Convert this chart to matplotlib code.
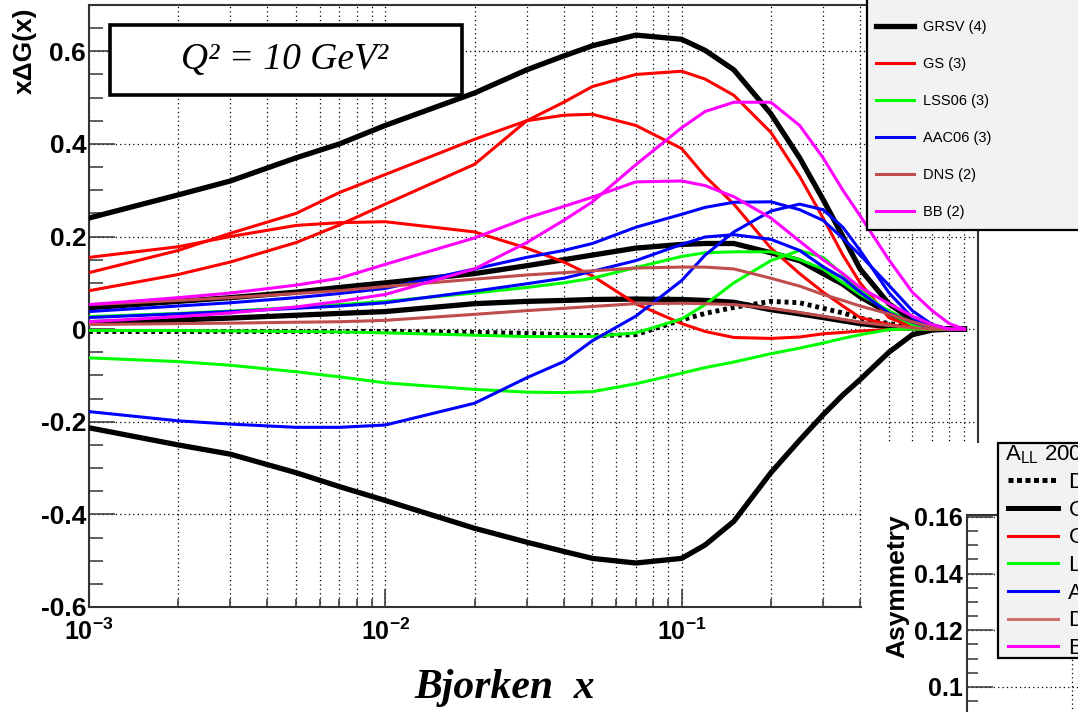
import matplotlib
matplotlib.use("Agg")
import matplotlib.pyplot as plt
import numpy as np
from matplotlib.lines import Line2D
from matplotlib.patches import Rectangle
from matplotlib.ticker import LogLocator, MultipleLocator, FuncFormatter, NullFormatter, FixedLocator

plt.rcParams["font.family"] = ["Liberation Sans", "DejaVu Sans"]
plt.rcParams["mathtext.fontset"] = "custom"
plt.rcParams["mathtext.rm"] = "Liberation Sans"
plt.rcParams["mathtext.bf"] = "Liberation Sans:bold"
plt.rcParams["mathtext.it"] = "Liberation Sans:italic"
plt.rcParams["axes.unicode_minus"] = False

# Bjorken x sampling points shared by all curves
x_vals = [0.001, 0.002, 0.003, 0.005, 0.007, 0.01, 0.02, 0.03, 0.04, 0.05, 0.07,
          0.1, 0.12, 0.15, 0.2, 0.25, 0.3, 0.35, 0.4, 0.5, 0.6, 0.7, 0.8, 0.9]

# x*DeltaG(x) at Q^2 = 10 GeV^2
dssv = [-0.005, -0.005, -0.005, -0.005, -0.005, -0.005, -0.007, -0.009, -0.012, -0.014, -0.012,
        0.02, 0.034, 0.047, 0.06, 0.057, 0.045, 0.035, 0.024, 0.012, 0.006, 0.003, 0.001, 0.0]

grsv_max = [0.24, 0.29, 0.32, 0.37, 0.40, 0.44, 0.51, 0.56, 0.59, 0.612, 0.635,
            0.626, 0.602, 0.56, 0.465, 0.37, 0.28, 0.2, 0.13, 0.055, 0.02, 0.003, 0.0, 0.0]
grsv_std = [0.046, 0.06, 0.068, 0.08, 0.09, 0.10, 0.12, 0.137, 0.15, 0.16, 0.175,
            0.183, 0.185, 0.185, 0.165, 0.148, 0.12, 0.097, 0.07, 0.035, 0.013, 0.003, 0.0, 0.0]
grsv_zero = [0.014, 0.02, 0.024, 0.03, 0.034, 0.038, 0.055, 0.06, 0.062, 0.064, 0.065,
             0.064, 0.062, 0.058, 0.042, 0.033, 0.025, 0.018, 0.012, 0.005, 0.002, 0.0, 0.0, 0.0]
grsv_min = [-0.213, -0.25, -0.27, -0.31, -0.34, -0.37, -0.43, -0.46, -0.48, -0.495, -0.505,
            -0.495, -0.466, -0.415, -0.31, -0.24, -0.185, -0.142, -0.109, -0.05, -0.012, -0.002, 0.0, 0.0]

gs_a = [0.083, 0.118, 0.145, 0.187, 0.225, 0.27, 0.356, 0.45, 0.49, 0.524, 0.55,
        0.557, 0.54, 0.505, 0.425, 0.33, 0.24, 0.16, 0.1, 0.025, 0.005, 0.0, 0.0, 0.0]
gs_b = [0.122, 0.17, 0.207, 0.25, 0.295, 0.334, 0.41, 0.45, 0.462, 0.464, 0.44,
        0.39, 0.33, 0.27, 0.175, 0.12, 0.08, 0.05, 0.025, 0.01, 0.003, 0.0, 0.0, 0.0]
gs_c = [0.155, 0.178, 0.2, 0.224, 0.23, 0.232, 0.21, 0.175, 0.145, 0.115, 0.055,
        0.012, -0.005, -0.018, -0.02, -0.017, -0.01, -0.007, -0.004, -0.001, 0.0, 0.0, 0.0, 0.0]

lss_neg = [-0.062, -0.07, -0.078, -0.092, -0.103, -0.116, -0.13, -0.136, -0.137, -0.135, -0.118,
           -0.095, -0.083, -0.071, -0.053, -0.041, -0.03, -0.02, -0.012, -0.001, 0.0, 0.0, 0.0, 0.0]
lss_mid = [-0.003, -0.003, -0.004, -0.005, -0.006, -0.008, -0.013, -0.016, -0.016, -0.016, -0.008,
           0.022, 0.053, 0.1, 0.148, 0.17, 0.155, 0.118, 0.085, 0.035, 0.01, 0.002, 0.0, 0.0]
lss_pos = [0.027, 0.034, 0.039, 0.047, 0.053, 0.06, 0.078, 0.09, 0.1, 0.11, 0.133,
           0.157, 0.165, 0.167, 0.167, 0.15, 0.13, 0.1, 0.075, 0.04, 0.012, 0.002, 0.0, 0.0]

aac_a = [-0.178, -0.198, -0.205, -0.212, -0.212, -0.207, -0.16, -0.105, -0.07, -0.025, 0.028,
         0.105, 0.16, 0.21, 0.255, 0.27, 0.258, 0.22, 0.17, 0.079, 0.025, 0.003, 0.0, 0.0]
aac_b = [0.038, 0.05, 0.057, 0.068, 0.077, 0.088, 0.13, 0.155, 0.17, 0.185, 0.22,
         0.248, 0.263, 0.274, 0.275, 0.258, 0.235, 0.196, 0.16, 0.095, 0.04, 0.01, 0.0, 0.0]
aac_c = [0.025, 0.033, 0.038, 0.045, 0.05, 0.057, 0.082, 0.098, 0.11, 0.125, 0.148,
         0.183, 0.199, 0.204, 0.194, 0.17, 0.135, 0.11, 0.08, 0.035, 0.015, 0.003, 0.0, 0.0]

dns_a = [0.053, 0.062, 0.068, 0.077, 0.083, 0.092, 0.108, 0.117, 0.122, 0.126, 0.132,
         0.134, 0.134, 0.13, 0.11, 0.093, 0.075, 0.062, 0.05, 0.033, 0.016, 0.004, 0.0, 0.0]
dns_b = [0.01, 0.012, 0.013, 0.015, 0.016, 0.019, 0.032, 0.04, 0.045, 0.049, 0.055,
         0.056, 0.055, 0.053, 0.045, 0.036, 0.028, 0.021, 0.015, 0.008, 0.003, 0.0, 0.0, 0.0]

bb_a = [0.016, 0.027, 0.035, 0.048, 0.06, 0.075, 0.13, 0.187, 0.235, 0.275, 0.355,
        0.435, 0.47, 0.49, 0.49, 0.44, 0.37, 0.3, 0.245, 0.15, 0.08, 0.04, 0.012, 0.0]
bb_b = [0.053, 0.068, 0.078, 0.095, 0.11, 0.14, 0.197, 0.24, 0.265, 0.285, 0.318,
        0.32, 0.31, 0.286, 0.24, 0.19, 0.15, 0.12, 0.09, 0.055, 0.028, 0.01, 0.0, 0.0]

models = [
    ("GRSV (4)", "black", 3.8, [grsv_max, grsv_std, grsv_zero, grsv_min]),
    ("GS (3)", "#ff0000", 2.2, [gs_a, gs_b, gs_c]),
    ("LSS06 (3)", "#00ff00", 2.2, [lss_neg, lss_mid, lss_pos]),
    ("AAC06 (3)", "#0000ff", 2.2, [aac_a, aac_b, aac_c]),
    ("DNS (2)", "#bf4d4d", 2.2, [dns_a, dns_b]),
    ("BB (2)", "#ff00ff", 2.2, [bb_a, bb_b]),
]

# inset (A_LL) legend entries
all_labels = ["DSSV", "GRSV", "GS", "LSS06", "AAC06", "DNS", "BB"]
all_colors = ["black", "black", "#ff0000", "#00ff00", "#0000ff", "#d07070", "#ff00ff"]
all_widths = [3.6, 3.6, 2.2, 2.2, 2.2, 2.2, 2.2]
all_styles = [(0, (1, 0.7)), "-", "-", "-", "-", "-", "-"]
asym_ticks = [0.1, 0.12, 0.14, 0.16]

W, H = 1078, 712
fig = plt.figure(figsize=(W / 100, H / 100), dpi=100)


def px(x0, y0, x1, y1):
    # pixel box (top-left origin) -> figure fraction rect
    return [x0 / W, 1 - y1 / H, (x1 - x0) / W, (y1 - y0) / H]


# ---- main panel
ax = fig.add_axes(px(89, 5, 978, 607))
ax.set_xscale("log")
ax.set_xlim(1e-3, 1)
ax.set_ylim(-0.6, 0.7)
ax.set_axisbelow(True)

ax.plot(x_vals, dssv, color="black", lw=3.5, ls=(0, (0.8, 0.8)), zorder=3)
handles = []
for label, color, lw, curves in models:
    for i, ys in enumerate(curves):
        ln, = ax.plot(x_vals, ys, color=color, lw=lw, zorder=3)
        if i == 0:
            handles.append(ln)

ax.xaxis.set_major_locator(LogLocator(base=10, numticks=10))
ax.xaxis.set_minor_locator(LogLocator(base=10, subs=np.arange(2, 10), numticks=10))
ax.xaxis.set_minor_formatter(NullFormatter())
ax.xaxis.set_major_formatter(FuncFormatter(
    lambda v, p: r"$\mathbf{10^{%d}}$" % round(np.log10(v))))
ax.yaxis.set_major_locator(MultipleLocator(0.2))
ax.yaxis.set_minor_locator(MultipleLocator(0.05))
ax.yaxis.set_major_formatter(FuncFormatter(
    lambda v, p: "0" if abs(v) < 1e-9 else "%.1f" % v))

ax.tick_params(which="both", direction="in", color="#333333", width=1.1)
ax.tick_params(axis="y", which="major", length=19, pad=2, labelsize=19)
ax.tick_params(axis="y", which="minor", length=10)
ax.tick_params(axis="x", which="major", length=13, pad=8, labelsize=18)
ax.tick_params(axis="x", which="minor", length=6)
for lab in ax.get_yticklabels():
    lab.set_fontweight("bold")
for sp in ax.spines.values():
    sp.set_linewidth(1.5)
    sp.set_color("#333333")

grid_kw = dict(color="black", lw=0.9, ls=(0, (1, 2.5)))
ax.grid(True, which="both", axis="x", **grid_kw)
ax.grid(True, which="major", axis="y", **grid_kw)

ax.add_patch(Rectangle((110 / W, 1 - 95 / H), 352 / W, 70 / H, transform=fig.transFigure,
                       facecolor="white", edgecolor="black", lw=2.6, zorder=4))
ax.text(285 / W, 1 - 60 / H, "Q² = 10 GeV²", transform=fig.transFigure,
        family="Liberation Serif", style="italic", fontsize=27,
        ha="center", va="center", zorder=5)

fig.text(25 / W, 1 - 8 / H, "xΔG(x)", rotation=90, ha="center", va="top",
         fontsize=19, fontweight="bold")
fig.text(505 / W, 1 - 688 / H, "Bjorken  x", family="Liberation Serif",
         fontweight="bold", style="italic", fontsize=30, ha="center", va="center")

# ---- model legend (top right)
fig.add_artist(Rectangle((867 / W, 1 - 230 / H), 240 / W, 250 / H, transform=fig.transFigure,
                         facecolor="#f2f2f2", edgecolor="black", lw=1.6, zorder=5))
leg = fig.legend(handles, [m[0] for m in models], loc="upper left",
                 bbox_to_anchor=(876 / W, 1 - 20 / H), frameon=False, fontsize=10.5,
                 labelspacing=1.58, handlelength=2.6, handletextpad=0.62,
                 borderpad=0, borderaxespad=0)
leg.set_zorder(6)

# ---- overlapping asymmetry panel (bottom right)
fig.add_artist(Rectangle((862 / W, 0), 300 / W, (712 - 443) / H, transform=fig.transFigure,
                         facecolor="white", edgecolor="none", zorder=1))
ax2 = fig.add_axes(px(967, 515, 1387, 760))
ax2.set_zorder(2)
ax2.set_xlim(0, 4)
ax2.set_ylim(0.0742, 0.1607)
ax2.set_xticks([1, 2, 3])
ax2.set_xticklabels([])
ax2.yaxis.set_major_locator(FixedLocator(asym_ticks))
ax2.yaxis.set_minor_locator(MultipleLocator(0.005))
ax2.yaxis.set_major_formatter(FuncFormatter(lambda v, p: "%g" % round(v, 3)))
ax2.tick_params(which="both", direction="in", color="#333333", width=1.1)
ax2.tick_params(axis="y", which="major", length=19, pad=3, labelsize=18)
ax2.tick_params(axis="y", which="minor", length=8)
for lab in ax2.get_yticklabels():
    lab.set_fontweight("bold")
for sp in ax2.spines.values():
    sp.set_linewidth(1.5)
    sp.set_color("#333333")
ax2.grid(True, which="major", **grid_kw)
fig.text(897 / W, 1 - 515 / H, "Asymmetry", rotation=90, ha="center", va="top",
         fontsize=19, fontweight="bold", zorder=3)

fig.add_artist(Rectangle((998 / W, 1 - 658 / H), 200 / W, 215 / H, transform=fig.transFigure,
                         facecolor="#f2f2f2", edgecolor="black", lw=1.6, zorder=5))
fig.text(1005 / W, 1 - 455 / H, r"A$_{\rm LL}$ 2006", ha="left", va="center",
         fontsize=16, zorder=6)
inset_handles = [Line2D([], [], color=c, lw=w, ls=s)
                 for c, w, s in zip(all_colors, all_widths, all_styles)]
leg2 = fig.legend(inset_handles, all_labels, loc="upper left",
                  bbox_to_anchor=(1008 / W, 1 - 472 / H), frameon=False, fontsize=16,
                  labelspacing=0.3, handlelength=2.27, handletextpad=0.45,
                  borderpad=0, borderaxespad=0)
leg2.set_zorder(6)

fig.savefig("out.png", dpi=100)
